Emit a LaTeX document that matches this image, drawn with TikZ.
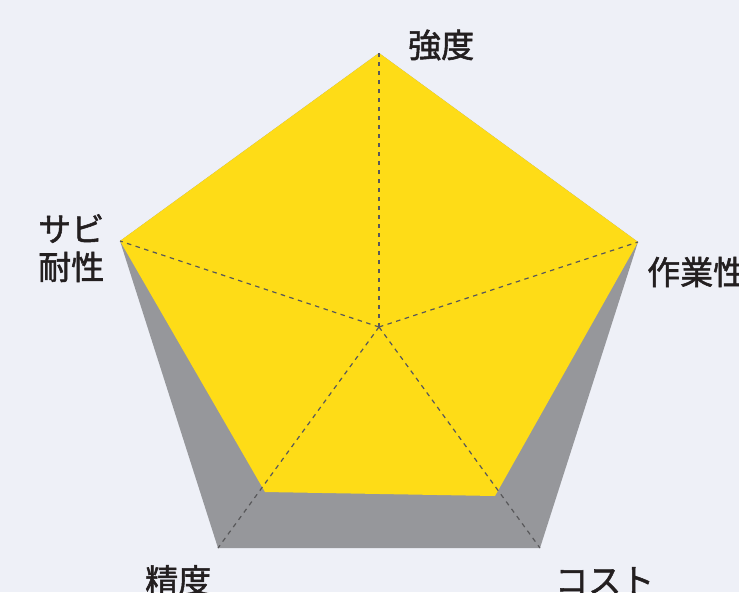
\documentclass[tikz,border=0pt]{standalone}
\usepackage{fontspec}
\setmainfont{Noto Sans CJK JP}[FakeBold=1.6,AutoFakeBold=1.6]
\usepackage{tikz}
\usetikzlibrary{calc}
\definecolor{bgcol}{HTML}{EEF0F7}
\definecolor{radaryellow}{HTML}{FEDC17}
\definecolor{radargray}{HTML}{96979B}
\definecolor{labelcol}{HTML}{231F20}
\definecolor{axiscol}{HTML}{58585A}

\begin{document}
\begin{tikzpicture}[x=1pt,y=-1pt,
        axis/.style={axiscol,line width=1.2pt,dash pattern=on 4.5pt off 4.5pt},
        lbl/.style={inner sep=0pt,text=labelcol,font=\fontsize{33}{38}\selectfont\bfseries}]
        \fill[bgcol] (0,0) rectangle (739,592);
        \useasboundingbox (0,0) rectangle (739,592);
        % outer pentagon
        \coordinate (O) at (379,327);
        \coordinate (Ts) at (379,53);
        \coordinate (Tw) at (638,242);
        \coordinate (Tc) at (540,548);
        \coordinate (Tp) at (218,548);
        \coordinate (Tr) at (120,241);
        % values
        \coordinate (Vc) at (495,496);
        \coordinate (Vp) at (265,492);
        \fill[radargray] (Ts) -- (Tw) -- (Tc) -- (Tp) -- (Tr) -- cycle;
        \fill[radaryellow] (Ts) -- (Tw) -- (Vc) -- (Vp) -- (Tr) -- cycle;
        \draw (O) edge[axis] (Ts);
        \draw (O) edge[axis] (Tw);
        \draw (O) edge[axis] (Tc);
        \draw (O) edge[axis] (Tp);
        \draw (O) edge[axis] (Tr);
        % labels
        \node[lbl,anchor=west] (Ls) at (408,45) {強度};
        \node[lbl,anchor=west] (Lw) at (647,272) {作業性};
        \node[lbl,anchor=north west,align=left] (Lr) at (38,214) {サビ\\耐性};
        \node[lbl,anchor=north west] (Lp) at (145,565) {精度};
        \node[lbl,anchor=north west] (Lc) at (555,567) {コスト};
    \end{tikzpicture}
\end{document}
